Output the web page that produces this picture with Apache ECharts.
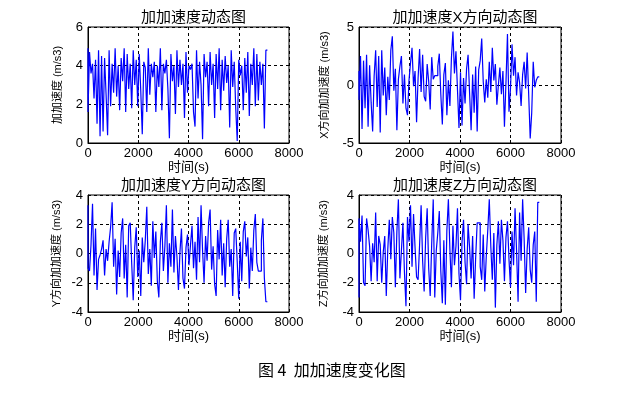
<!DOCTYPE html>
<html>
<head>
<meta charset="utf-8">
<script src="https://cdn.jsdelivr.net/npm/echarts@6/dist/echarts.min.js"></script>
<style>
  html, body { margin: 0; padding: 0; background: #fff; }
  #main { width: 640px; height: 397px; }
</style>
</head>
<body>
<div id="main"></div>
<script>
// 采样间隔 (s)
const sampleStep = 60;

// 加加速度总量
const jerkTotal = [
  4.9, 1.6, 4.7, 3.6, 4.1, 2.3, 4.3, 1.0, 4.8, 0.35,
  4.5, 0.6, 4.4, 2.5, 0.4, 4.8, 1.9, 4.1, 2.6, 4.9,
  2.4, 4.0, 1.7, 4.4, 3.2, 4.9, 1.6, 4.6, 2.8, 4.1,
  1.8, 4.8, 3.0, 4.3, 1.9, 4.6, 2.7, 0.45, 4.2, 3.9,
  1.6, 4.9, 2.5, 4.1, 3.4, 4.2, 1.6, 4.0, 2.9, 4.9,
  1.7, 4.1, 3.6, 4.3, 2.8, 0.25, 4.6, 3.2, 4.0, 1.5,
  4.8, 2.9, 4.3, 3.0, 4.1, 1.3, 4.7, 2.6, 4.0, 3.8,
  4.1, 1.6, 0.85, 4.8, 2.3, 4.2, 3.0, 0.2, 4.6, 3.4,
  4.2, 1.9, 4.7, 3.0, 4.1, 1.3, 4.6, 2.8, 4.9, 1.7,
  4.3, 2.7, 4.5, 3.1, 4.0, 0.8, 4.8, 2.9, 4.2, 1.8,
  0.1, 4.3, 3.5, 4.0, 1.7, 4.4, 2.6, 4.7, 1.4, 4.1,
  3.0, 4.9, 1.9, 4.6, 2.2, 4.2, 3.0, 4.1, 0.75, 4.8
];
// X方向
const jerkX = [
  1.2, -1.3, 2.5, -3.8, 2.1, -2.0, 2.6, -3.6, 1.7, -1.5,
  -4.0, 0.8, 3.0, -1.9, 2.5, -4.1, 3.0, -0.9, 1.5, -2.6,
  0.7, -1.3, 3.0, 4.2, -0.5, 1.4, -3.9, 0.5, 1.6, 2.5,
  -1.6, 0.9, -2.0, -2.6, 0.4, 1.9, 3.2, -0.1, 1.2, -3.2,
  0.6, 3.1, -0.6, 2.6, -1.0, -1.4, 1.8, 0.3, -2.1, 2.4,
  0.5, 0.8, 0.8, 1.6, 2.7, -0.8, -3.4, 0.9, 1.9, -2.6,
  0.4, -1.8, 2.3, 4.6, 1.0, 2.9, -0.4, -3.7, 1.1, -3.5,
  0.6, -1.6, 1.4, 2.6, -0.7, -3.9, 0.9, -2.4, 1.6, -4.0,
  1.3, 2.1, 4.0, 0.3, -1.5, 0.5, -1.1, 2.0, -0.6, 3.2,
  0.4, 1.8, -1.7, 0.0, 1.5, -0.8, 1.2, -3.6, 0.2, 4.4,
  -2.3, -0.3, 3.5, 0.8, 2.4, -0.9, 1.1, 0.2, -1.8, 0.9,
  2.0, -0.3, 2.8, -0.8, -4.6, -2.4, 2.0, -0.2, 0.4, 0.7
];
// Y方向
const jerkY = [
  3.3, -1.0, -1.2, 0.6, 3.4, -1.5, 1.7, -2.5, -0.4, -0.1,
  0.3, 0.9, -1.5, 0.3, -0.5, 0.8, 1.8, 3.5, -0.9, 1.0,
  -2.8, 0.2, -1.6, 1.4, 2.4, -1.7, 0.6, -3.0, 1.9, 2.1,
  -0.7, -3.2, 0.4, 1.8, -1.6, 0.2, -2.9, 1.1, -0.6, 0.9,
  3.2, -1.4, 0.3, -2.2, 2.2, -0.3, 1.5, -1.9, -3.0, 0.8,
  2.1, -1.2, 0.5, 3.3, -2.0, 0.7, -0.9, 3.0, -1.3, 1.2,
  -0.2, -2.5, 0.1, 1.7, -1.7, -2.4, 0.4, 1.3, -0.8, 0.6,
  1.9, -1.0, 0.8, -1.8, 2.5, -0.6, 3.3, 0.2, -2.0, 1.2,
  -0.5, 2.1, 3.0, -1.1, 0.5, -2.1, -2.9, 1.6, -0.4, 2.3,
  -1.5, 0.7, -2.3, 1.0, 2.3, -0.9, 0.3, -2.9, 1.4, 1.7,
  -0.6, -3.1, 0.8, -1.9, 1.5, 2.2, -0.2, 1.1, -2.4, 0.4,
  -1.2, 1.6, 2.7, -0.6, -1.2, -1.2, 0.9, 2.4, -1.7, -3.3
];
// Z方向
const jerkZ = [
  -3.0, 2.4, 0.8, 2.6, -2.0, -2.2, 2.4, 1.6, 0.5, -1.9,
  0.7, -0.6, 2.8, -1.9, 1.2, 0.6, -2.0, 0.1, 1.2, -2.9,
  0.3, 2.3, -0.4, 2.5, 1.4, -2.3, 1.5, 3.7, -1.7, 0.2,
  2.1, -1.3, -3.6, 2.5, 0.8, 3.3, -0.9, 2.7, 0.4, -1.6,
  -1.8, 0.6, 3.3, -0.5, -2.6, 1.1, 3.1, -1.0, -2.9, 0.7,
  3.7, -3.0, 0.2, 1.4, 2.9, -1.2, -3.4, 0.9, -3.5, 1.6,
  3.7, 0.3, -2.3, 1.9, -0.8, 0.5, 3.1, -1.4, -3.2, 0.8,
  2.3, -0.6, -2.1, 2.0, 0.4, -1.7, 1.2, -3.1, -0.3, 2.1,
  2.1, -0.9, -1.8, 1.3, -2.6, -0.2, 1.6, 3.7, 0.5, -1.8,
  1.4, -3.7, 0.6, 2.2, -0.7, 2.3, 0.9, -1.9, 1.1, 2.2,
  -0.4, -2.3, 1.5, -0.8, 3.1, 0.2, -3.3, 2.8, -0.5, 3.7,
  1.0, -2.7, 0.3, 1.8, -1.1, -2.0, 0.6, 1.5, -3.3, 3.5
];

const titles = ['加加速度动态图', '加加速度X方向动态图', '加加速度Y方向动态图', '加加速度Z方向动态图'];
const yNames = ['加加速度 (m/s3)', 'X方向加加速度 (m/s3)', 'Y方向加加速度 (m/s3)', 'Z方向加加速度 (m/s3)'];
const yRanges = [[0, 6, 2], [-5, 5, 5], [-4, 4, 2], [-4, 4, 2]];
const seriesList = [jerkTotal, jerkX, jerkY, jerkZ];

const grids = [
  {left: 88, top: 27, width: 201, height: 116},
  {left: 359, top: 27, width: 202, height: 116},
  {left: 88, top: 195, width: 201, height: 117},
  {left: 359, top: 195, width: 202, height: 117}
];
const yNameGaps = [25, 29, 26, 30];
const font = "'Liberation Sans', 'Noto Sans CJK SC', sans-serif";

function toPairs(arr) {
  return arr.map(function (v, i) { return [i * sampleStep, v]; });
}

const chart = echarts.init(document.getElementById('main'));
chart.setOption({
  animation: false,
  backgroundColor: '#fff',
  title: grids.map(function (g, i) {
    return {
      text: titles[i],
      left: g.left + g.width / 2,
      top: g.top - 22,
      textAlign: 'center',
      textStyle: {fontSize: 15, fontWeight: 'normal', color: '#000', fontFamily: font}
    };
  }),
  grid: grids.map(function (g) {
    return Object.assign({show: true, borderColor: '#000', borderWidth: 1, backgroundColor: '#fff'}, g);
  }),
  xAxis: grids.map(function (g, i) {
    return {
      type: 'value', gridIndex: i, min: 0, max: 8000, interval: 2000,
      name: '时间(s)', nameLocation: 'middle', nameGap: 16,
      nameTextStyle: {fontSize: 13, color: '#000', fontFamily: font},
      axisLine: {onZero: false, lineStyle: {color: '#000'}},
      axisTick: {inside: true, length: 3, lineStyle: {color: '#000'}},
      axisLabel: {fontSize: 13, color: '#000', margin: 4, fontFamily: font,
        formatter: function (v) { return String(v); }},
      splitLine: {lineStyle: {color: '#000', type: [3, 3]}}
    };
  }),
  yAxis: grids.map(function (g, i) {
    return {
      type: 'value', gridIndex: i,
      min: yRanges[i][0], max: yRanges[i][1], interval: yRanges[i][2],
      name: yNames[i], nameLocation: 'middle', nameGap: yNameGaps[i],
      nameTextStyle: {fontSize: 11, color: '#000', fontFamily: font},
      axisLine: {show: true, onZero: false, lineStyle: {color: '#000'}},
      axisTick: {show: true, inside: true, length: 3, lineStyle: {color: '#000'}},
      axisLabel: {fontSize: 13, color: '#000', margin: 5, fontFamily: font},
      splitLine: {lineStyle: {color: '#000', type: [3, 3]}}
    };
  }),
  series: seriesList.map(function (d, i) {
    return {
      type: 'line', xAxisIndex: i, yAxisIndex: i,
      data: toPairs(d), step: 'start', showSymbol: false,
      lineStyle: {color: '#0000ff', width: 1.2}
    };
  }),
  graphic: [{
    type: 'text', left: 258, top: 362,
    style: {text: '图 4  加加速度变化图', fontSize: 16, fill: '#000', fontFamily: "'Noto Sans CJK SC', sans-serif"}
  }]
});
</script>
</body>
</html>
